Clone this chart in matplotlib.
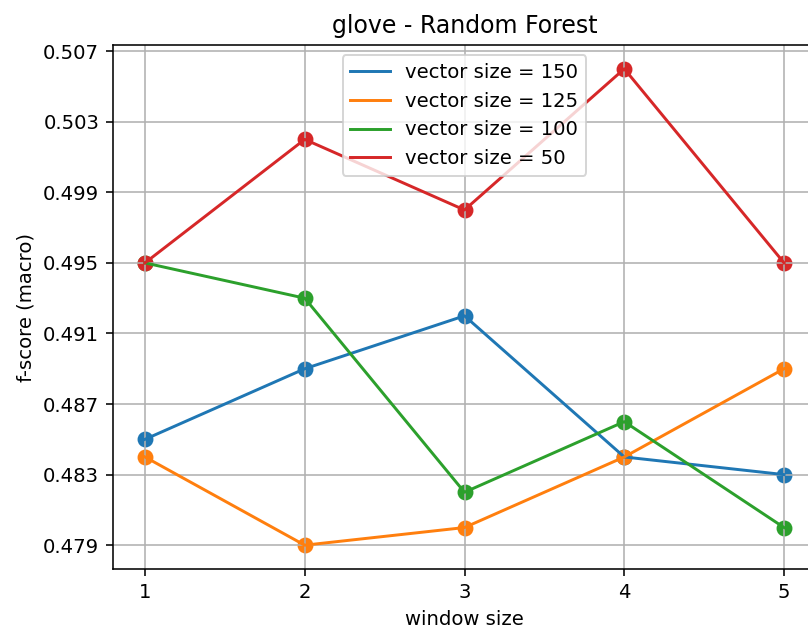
import numpy as np
import matplotlib.pyplot as plt

# data
window_sizes = [1, 2, 3, 4, 5]
vs150 = [0.485, 0.489, 0.492, 0.484, 0.483]
vs125 = [0.484, 0.479, 0.480, 0.484, 0.489]
vs100 = [0.495, 0.493, 0.482, 0.486, 0.480]
vs50 = [0.495, 0.502, 0.498, 0.506, 0.495]
labels = ['vector size = 150', 'vector size = 125', 'vector size = 100', 'vector size = 50']
yticks = [0.479, 0.483, 0.487, 0.491, 0.495, 0.499, 0.503, 0.507]

dpi = 141.7
fig = plt.figure(figsize=(808 / dpi, 630 / dpi), dpi=dpi)
# original figure was cropped on the right, so the axes run past the edge
ax = fig.add_axes([113 / 808, 61 / 630, 703 / 808, 524 / 630])

for series, lab in zip([vs150, vs125, vs100, vs50], labels):
    line, = ax.plot(window_sizes, series, label=lab)
    ax.scatter(window_sizes, series, color=line.get_color(), s=50)

ax.set_xticks(window_sizes)
ax.set_yticks(yticks)
ax.grid(True)
ax.set_title('glove - Random Forest')
ax.set_xlabel('window size')
ax.set_ylabel('f-score (macro)')
ax.legend(loc='upper center')

fig.savefig('out.png', dpi=dpi)
